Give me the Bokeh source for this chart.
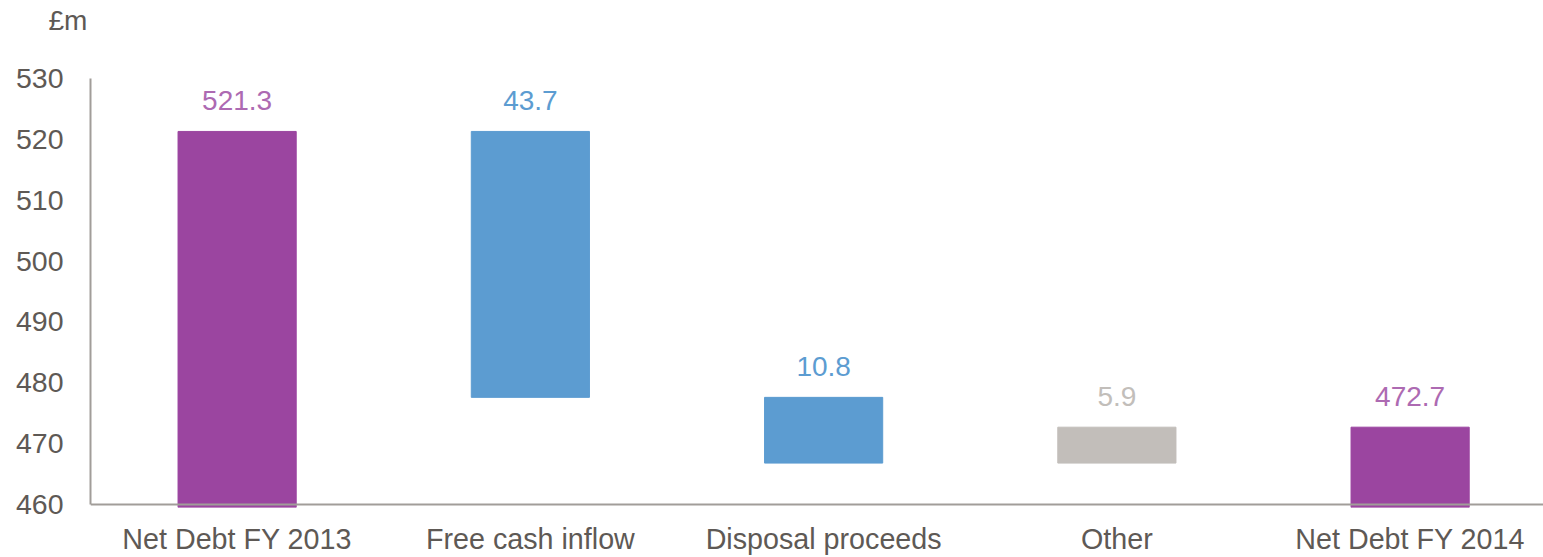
from bokeh.plotting import figure
from bokeh.models import Range1d, FixedTicker, ColumnDataSource, LabelSet, Span, Title
from bokeh.core.properties import value
from bokeh.embed import file_html
from bokeh.resources import INLINE

categories = ["Net Debt FY 2013", "Free cash inflow", "Disposal proceeds", "Other", "Net Debt FY 2014"]
changes = [521.3, -43.7, -10.8, 5.9, 472.7]
kinds = ["total", "change", "change", "change", "total"]
label_text = ["521.3", "43.7", "10.8", "5.9", "472.7"]
bar_colors = ["#9B45A0", "#5C9CD1", "#5C9CD1", "#C2BEBA", "#9B45A0"]
label_colors = ["#AD6AB2", "#5C9CD1", "#5C9CD1", "#C2BEBA", "#AD6AB2"]
y_ticks = [460, 470, 480, 490, 500, 510, 520, 530]
unit_label = "£m"

FONT = "Liberation Sans"
TICK_COLOR = "#5E5955"
AXIS_COLOR = "#A19D99"

W, H = 1543, 557
LEFT, TOP, BOTTOM = 90, 78, 49
y_start, y_end = 459.5, 530
x_start = -0.5
cat_px = 293.25
x_end = x_start + (W - LEFT) / cat_px

xs = list(range(len(categories)))
bottoms, tops = [], []
running = 0.0
for c, k in zip(changes, kinds):
    if k == "total":
        bottoms.append(y_start)
        tops.append(c)
        running = c
    else:
        new = running + c
        bottoms.append(min(running, new))
        tops.append(max(running, new))
        running = new

src = ColumnDataSource(dict(x=xs, bottom=bottoms, top=tops, color=bar_colors,
                            label=label_text, lcolor=label_colors))

p = figure(width=W, height=H, output_backend="svg", toolbar_location=None,
           x_range=Range1d(x_start, x_end), y_range=Range1d(y_start, y_end),
           min_border_left=LEFT, min_border_right=0, min_border_top=TOP, min_border_bottom=BOTTOM,
           title=unit_label)
p.outline_line_color = None
p.grid.visible = False
p.background_fill_color = "white"
p.border_fill_color = "white"

p.title.align = "left"
p.title.vertical_align = "top"
p.title.offset = -42
p.title.standoff = 0
p.title.text_font = FONT
p.title.text_font_size = "28px"
p.title.text_font_style = "normal"
p.title.text_color = TICK_COLOR

# invisible spacer between the unit caption and the plot area
p.add_layout(Title(text=" ", text_font_size="1px", standoff=38, text_color="white"), "above")

p.vbar(x="x", bottom="bottom", top="top", width=0.403, color="color", source=src)

labels = LabelSet(x="x", y="top", text="label", text_color="lcolor", source=src,
                  text_align="center", text_baseline="alphabetic", y_offset=21,
                  text_font=value(FONT), text_font_size="28px")
p.add_layout(labels)

p.add_layout(Span(location=460, dimension="width", line_color=AXIS_COLOR, line_width=2))

p.xaxis.ticker = FixedTicker(ticks=xs)
p.xaxis.major_label_overrides = {i: c for i, c in enumerate(categories)}
p.xaxis.axis_line_color = None
p.xaxis.major_tick_line_color = None
p.xaxis.minor_tick_line_color = None
p.xaxis.major_tick_out = 0
p.xaxis.minor_tick_out = 0
p.xaxis.major_label_standoff = 15
p.xaxis.major_label_text_font_size = "28.7px"

p.yaxis.ticker = FixedTicker(ticks=y_ticks)
p.yaxis.bounds = (460, 530)
p.yaxis.axis_line_color = AXIS_COLOR
p.yaxis.axis_line_width = 2
p.yaxis.major_tick_line_color = None
p.yaxis.minor_tick_line_color = None
p.yaxis.major_tick_out = 0
p.yaxis.minor_tick_out = 0
p.yaxis.major_label_standoff = 27
p.yaxis.major_label_text_font_size = "28.5px"

for ax in (p.xaxis, p.yaxis):
    ax.major_label_text_font = FONT
    ax.major_label_text_color = TICK_COLOR

open("out.html", "w").write(file_html(p, INLINE))
